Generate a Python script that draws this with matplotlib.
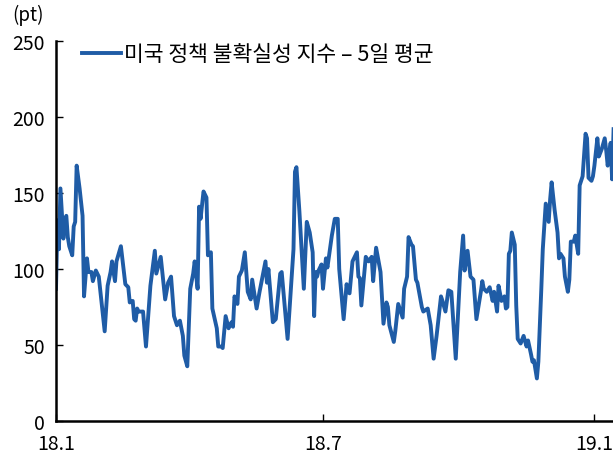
import matplotlib
matplotlib.use('Agg')
import matplotlib.pyplot as plt
import pandas as pd

plt.rcParams['font.family'] = ['Noto Sans CJK KR', 'DejaVu Sans']

# days since 2018-01-01 at turning points
days = [0, 1, 2, 3, 5, 6, 7, 8, 9, 11, 12, 13, 14, 16, 18, 19, 21, 22, 24, 25,
        27, 29, 33, 35, 37, 38, 39, 40, 41, 44, 47, 49, 50, 52, 53, 54, 55, 56, 59, 61,
        64, 67, 68, 71, 74, 76, 78, 80, 82, 84, 86, 87, 89, 91, 93, 94, 96, 97, 98, 100,
        102, 103, 105, 106, 109, 110, 112, 113, 115, 117, 119, 120, 121, 123, 124, 126, 128, 130, 132, 133,
        136, 138, 140, 142, 143, 144, 147, 149, 152, 153, 157, 161, 162, 163, 165, 168, 170, 172, 174, 175,
        176, 177, 178, 180, 181, 183, 184, 187, 189, 191, 192, 195, 197, 198, 199, 201, 204, 205, 206, 207,
        210, 212, 214, 215, 217, 220, 222, 224, 225, 226, 229, 230, 232, 235, 236, 238, 239, 241, 242, 244,
        245, 248, 249, 252, 254, 256, 258, 261, 262, 264, 266, 268, 271, 274, 276, 277, 279, 281, 283, 285,
        288, 289, 290, 292, 294, 296, 297, 299, 300, 302, 304, 305, 306, 307, 308, 309, 311, 312, 313, 315,
        317, 319, 320, 322, 323, 324, 326, 327, 329, 330, 332, 334, 335, 336, 338, 340, 341, 342, 344, 345,
        347, 348, 349, 351, 352, 354, 355, 357, 359, 360, 361, 363, 364, 365, 367, 368, 370, 372, 373, 374,
        376, 377, 378]
vals = [87, 132, 113, 153, 120, 133, 135, 121, 115, 109, 128, 131, 168, 153, 135, 82, 107, 98, 98, 92,
        99, 95, 59, 89, 98, 105, 98, 92, 105, 115, 90, 88, 78, 79, 67, 66, 74, 72, 72, 49,
        89, 112, 97, 108, 80, 91, 95, 69, 63, 66, 56, 43, 36, 87, 97, 105, 87, 141, 133, 151,
        147, 109, 111, 74, 61, 49, 49, 48, 69, 61, 65, 62, 82, 77, 95, 99, 111, 85, 80, 93,
        74, 85, 95, 105, 91, 100, 65, 67, 97, 98, 54, 113, 164, 167, 138, 87, 131, 124, 111, 69,
        98, 95, 99, 103, 87, 107, 101, 122, 133, 133, 100, 67, 90, 85, 84, 105, 111, 95, 94, 76,
        108, 105, 108, 92, 114, 98, 64, 78, 75, 63, 52, 59, 77, 68, 87, 95, 121, 116, 115, 93,
        91, 75, 72, 74, 63, 41, 56, 82, 79, 72, 86, 85, 41, 98, 122, 99, 112, 95, 93, 67,
        85, 92, 87, 85, 88, 79, 85, 72, 89, 79, 82, 74, 75, 110, 112, 124, 116, 76, 54, 51,
        56, 49, 53, 44, 39, 40, 28, 39, 87, 113, 143, 131, 146, 157, 139, 124, 107, 110, 107, 95,
        85, 93, 118, 118, 122, 110, 155, 161, 189, 186, 160, 158, 161, 168, 186, 174, 179, 186, 178, 168,
        183, 159, 192]

xtick_dates = ['2018-01-01', '2018-07-01', '2019-01-01']
xtick_labels = ['18.1', '18.7', '19.1']
yticks = [0, 50, 100, 150, 200, 250]
label = '미국 정책 불확실성 지수 – 5일 평균'

start = pd.Timestamp('2018-01-01')
dates = start + pd.to_timedelta(days, unit='D')

fig = plt.figure(figsize=(6.13, 4.6), dpi=100)
ax = fig.add_axes([56 / 613, 1 - 422 / 460, 557 / 613, 380 / 460])

ax.plot(dates, vals, color='#1f5ca6', linewidth=2.8, label=label)

ax.set_xlim(start, start + pd.Timedelta(days=377.6))
ax.set_ylim(0, 250)
ax.set_yticks(yticks)
ax.set_xticks(pd.to_datetime(xtick_dates))
ax.set_xticklabels(xtick_labels)

for s in ['top', 'right']:
    ax.spines[s].set_visible(False)
for s in ['left', 'bottom']:
    ax.spines[s].set_linewidth(1.8)
    ax.spines[s].set_color('black')

ax.tick_params(axis='y', direction='in', length=5, width=1, labelsize=14, pad=8)
ax.tick_params(axis='x', direction='in', length=5, width=1, labelsize=14, pad=9)

ax.legend(loc='upper left', bbox_to_anchor=(0.012, 1.045), frameon=False,
          fontsize=15.5, handlelength=1.8, handletextpad=0.15)

fig.text(12 / 613, 1 - 15 / 460, '(pt)', fontsize=13.5, va='center', ha='left')

plt.savefig('out.png', dpi=100)
